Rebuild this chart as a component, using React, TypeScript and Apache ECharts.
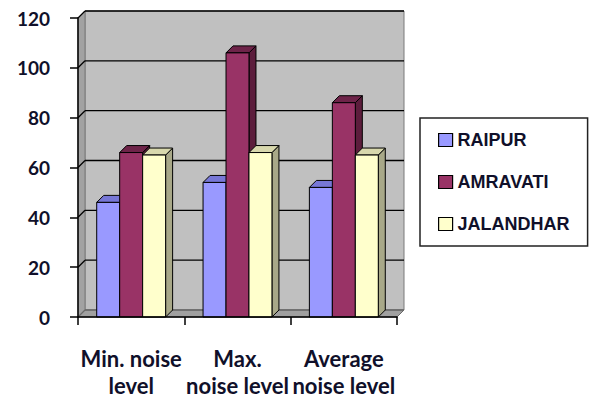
import React, { useEffect, useRef } from "react";
import * as echarts from "echarts";

const categories = ["Min. noise\nlevel", "Max.\nnoise level", "Average\nnoise level"];
const seriesNames = ["RAIPUR", "AMRAVATI", "JALANDHAR"];
const raipur = [46, 54, 52];
const amravati = [66, 106, 86];
const jalandhar = [65, 66, 65];
const yTicks = [0, 20, 40, 60, 80, 100, 120];

const DEPTH = 7;
const palette = [
  { front: "#9999ff", top: "#7777d6", side: "#6a6ab5" },
  { front: "#993366", top: "#6e2449", side: "#5c1d3c" },
  { front: "#ffffcc", top: "#d8d8ad", side: "#a8a888" },
];
const TEXT = "#10102a";

function makeBarRender(s: number) {
  const c = palette[s];
  return (params: any, api: any) => {
    const cat = api.value(0);
    const val = api.value(1);
    const base = api.coord([cat, 0]);
    const topP = api.coord([cat, val]);
    const band = api.size([1, 0])[0];
    const w = band * 0.216;
    const x0 = base[0] - 1.5 * w + s * w;
    const x1 = x0 + w;
    const yb = base[1];
    const yt = topP[1];
    const d = DEPTH;
    return {
      type: "group",
      children: [
        {
          type: "polygon",
          shape: { points: [[x1, yt], [x1 + d, yt - d], [x1 + d, yb - d], [x1, yb]] },
          style: { fill: c.side, stroke: "#000", lineWidth: 1 },
        },
        {
          type: "polygon",
          shape: { points: [[x0, yt], [x0 + d, yt - d], [x1 + d, yt - d], [x1, yt]] },
          style: { fill: c.top, stroke: "#000", lineWidth: 1 },
        },
        {
          type: "rect",
          shape: { x: x0, y: yt, width: w, height: yb - yt },
          style: { fill: c.front, stroke: "#000", lineWidth: 1 },
        },
      ],
    };
  };
}

function wallRender(params: any, api: any) {
  const cs = params.coordSys;
  const d = DEPTH;
  const xl = cs.x;
  const xr = cs.x + cs.width;
  const yt = cs.y;
  const yb = cs.y + cs.height;
  return {
    type: "group",
    children: [
      {
        type: "rect",
        shape: { x: xl + d, y: yt - d, width: cs.width, height: cs.height },
        style: { fill: "#c0c0c0", stroke: "#7a7a7a", lineWidth: 1 },
      },
      {
        type: "polygon",
        shape: { points: [[xl, yb], [xl, yt], [xl + d, yt - d], [xl + d, yb - d]] },
        style: { fill: "#a2a2a2", stroke: "#7a7a7a", lineWidth: 1 },
      },
      {
        type: "polygon",
        shape: { points: [[xl, yb], [xr, yb], [xr + d, yb - d], [xl + d, yb - d]] },
        style: { fill: "#a0a0a0", stroke: "#6a6a6a", lineWidth: 1 },
      },
    ],
  };
}

function gridRender(params: any, api: any) {
  const cs = params.coordSys;
  const d = DEPTH;
  const v = api.value(1);
  const y = api.coord([0, v])[1];
  const xl = cs.x;
  const xr = cs.x + cs.width;
  const col = v === 0 ? "#6a6a6a" : "#000";
  return {
    type: "group",
    children: [
      { type: "line", shape: { x1: xl, y1: y, x2: xl + d, y2: y - d }, style: { stroke: col, lineWidth: 1.3 } },
      { type: "line", shape: { x1: xl + d, y1: y - d, x2: xr + d, y2: y - d }, style: { stroke: col, lineWidth: 1.3 } },
    ],
  };
}

export default function App() {
  const ref = useRef<HTMLDivElement>(null);
  useEffect(() => {
    if (!ref.current) return;
    const chart = echarts.init(ref.current, undefined, { renderer: "svg" });
    const seriesData = [raipur, amravati, jalandhar];
    chart.setOption({
      animation: false,
      backgroundColor: "#ffffff",
      grid: { left: 78, top: 18, width: 319, height: 300 },
      legend: {
        orient: "vertical",
        left: 420,
        top: 118,
        padding: [13, 18, 13, 18],
        itemGap: 24,
        itemWidth: 14,
        itemHeight: 13,
        borderColor: "#222",
        borderWidth: 1.5,
        selectedMode: false,
        textStyle: { fontFamily: "Liberation Sans", fontWeight: "bold", fontSize: 18, color: TEXT },
        data: seriesNames.map((n, i) => ({
          name: n,
          icon: "rect",
          itemStyle: { color: palette[i].front, borderColor: "#000", borderWidth: 1.2 },
        })),
      },
      xAxis: {
        type: "category",
        data: categories,
        z: 10,
        axisLine: { lineStyle: { color: "#000", width: 1.5 } },
        axisTick: { show: true, alignWithLabel: false, interval: 0, length: 8, lineStyle: { color: "#000", width: 1.5 } },
        axisLabel: {
          interval: 0,
          margin: 28,
          lineHeight: 27,
          fontFamily: "Lato",
          fontWeight: "bold",
          fontSize: 22,
          color: TEXT,
        },
        splitLine: { show: false },
      },
      yAxis: {
        type: "value",
        min: 0,
        max: 120,
        interval: 20,
        z: 10,
        axisLine: { show: true, lineStyle: { color: "#000", width: 1.5 } },
        axisTick: { show: true, length: 8, lineStyle: { color: "#000", width: 1.5 } },
        axisLabel: {
          margin: 28,
          fontFamily: "Lato",
          fontWeight: "bold",
          fontSize: 19,
          color: TEXT,
        },
        splitLine: { show: false },
      },
      series: [
        {
          type: "custom",
          name: "walls",
          clip: false,
          silent: true,
          z: 1,
          renderItem: wallRender,
          data: [[0, 0]],
          encode: { x: 0, y: 1 },
        },
        {
          type: "custom",
          name: "grid",
          clip: false,
          silent: true,
          z: 2,
          renderItem: gridRender,
          data: yTicks.map((v) => [0, v]),
          encode: { x: 0, y: 1 },
        },
        ...seriesNames.map((n, s) => ({
          type: "custom",
          name: n,
          clip: false,
          z: 3,
          itemStyle: { color: palette[s].front },
          renderItem: makeBarRender(s),
          data: seriesData[s].map((v, i) => [i, v]),
          encode: { x: 0, y: 1 },
        })),
      ],
    });
    return () => chart.dispose();
  }, []);
  return <div ref={ref} style={{ position: "absolute", left: 0, top: 0, width: 589, height: 399 }} />;
}
